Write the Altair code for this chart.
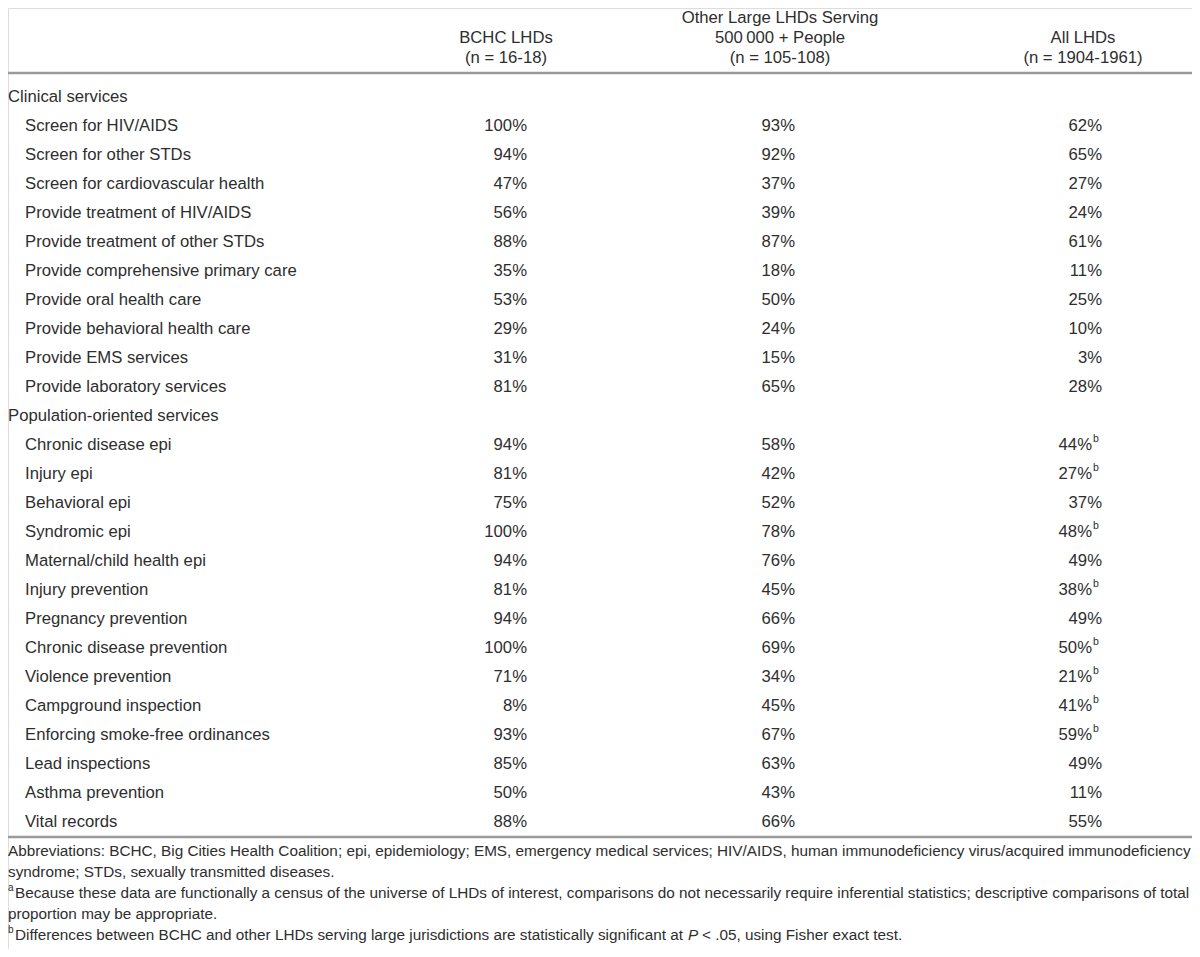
import altair as alt
import pandas as pd

# ---------------- data ----------------
sections = ["Clinical services", "Population-oriented services"]

clinical_items = [
    "Screen for HIV/AIDS",
    "Screen for other STDs",
    "Screen for cardiovascular health",
    "Provide treatment of HIV/AIDS",
    "Provide treatment of other STDs",
    "Provide comprehensive primary care",
    "Provide oral health care",
    "Provide behavioral health care",
    "Provide EMS services",
    "Provide laboratory services",
]
clinical_bchc = [100, 94, 47, 56, 88, 35, 53, 29, 31, 81]
clinical_other = [93, 92, 37, 39, 87, 18, 50, 24, 15, 65]
clinical_all = [62, 65, 27, 24, 61, 11, 25, 10, 3, 28]
clinical_sig = [False, False, False, False, False, False, False, False, False, False]

pop_items = [
    "Chronic disease epi",
    "Injury epi",
    "Behavioral epi",
    "Syndromic epi",
    "Maternal/child health epi",
    "Injury prevention",
    "Pregnancy prevention",
    "Chronic disease prevention",
    "Violence prevention",
    "Campground inspection",
    "Enforcing smoke-free ordinances",
    "Lead inspections",
    "Asthma prevention",
    "Vital records",
]
pop_bchc = [94, 81, 75, 100, 94, 81, 94, 100, 71, 8, 93, 85, 50, 88]
pop_other = [58, 42, 52, 78, 76, 45, 66, 69, 34, 45, 67, 63, 43, 66]
pop_all = [44, 27, 37, 48, 49, 38, 49, 50, 21, 41, 59, 49, 11, 55]
pop_sig = [True, True, False, True, False, True, False, True, True, True, True, False, False, False]

header_col1 = ["BCHC LHDs", "(n = 16-18)"]
header_col2 = ["Other Large LHDs Serving", "500\u2009000 + People", "(n = 105-108)"]
header_col3 = ["All LHDs", "(n = 1904-1961)"]

foot_lines = [
    "Abbreviations: BCHC, Big Cities Health Coalition; epi, epidemiology; EMS, emergency medical services; HIV/AIDS, human immunodeficiency virus/acquired immunodeficiency",
    "syndrome; STDs, sexually transmitted diseases.",
    "Because these data are functionally a census of the universe of LHDs of interest, comparisons do not necessarily require inferential statistics; descriptive comparisons of total",
    "proportion may be appropriate.",
    "Differences between BCHC and other LHDs serving large jurisdictions are statistically significant at",
]
foot_p = "P"
foot_tail = "< .05, using Fisher exact test."

# ---------------- table ----------------
rows = []
r = 0
for sec, items, b, o, a, s in [
    (sections[0], clinical_items, clinical_bchc, clinical_other, clinical_all, clinical_sig),
    (sections[1], pop_items, pop_bchc, pop_other, pop_all, pop_sig),
]:
    rows.append(dict(row=r, label=sec, kind="section", c1="", c2="", c3="", sup=False))
    r += 1
    for it, vb, vo, va, vs in zip(items, b, o, a, s):
        rows.append(dict(row=r, label=it, kind="item", c1=f"{vb}%", c2=f"{vo}%",
                         c3=f"{va}%", sup=vs))
        r += 1
df = pd.DataFrame(rows)

FONT = "Liberation Sans, Arial, sans-serif"
COL = "#2e2e2e"
FS = 16.7
W, H = 1184, 941

yscale = alt.Scale(domain=[0, 25], range=[89, 814])
Y = alt.Y("row:Q", scale=yscale, axis=None)

base = alt.Chart(df)


def txt(**kw):
    d = dict(font=FONT, fontSize=FS, color=COL, baseline="middle")
    d.update(kw)
    return d


layers = []
layers.append(base.transform_filter("datum.kind == 'section'")
              .mark_text(**txt(align="left"))
              .encode(x=alt.value(0), y=Y, text="label:N"))
layers.append(base.transform_filter("datum.kind == 'item'")
              .mark_text(**txt(align="left"))
              .encode(x=alt.value(17), y=Y, text="label:N"))
layers.append(base.transform_filter("datum.kind == 'item'")
              .mark_text(**txt(align="right"))
              .encode(x=alt.value(519), y=Y, text="c1:N"))
layers.append(base.transform_filter("datum.kind == 'item'")
              .mark_text(**txt(align="right"))
              .encode(x=alt.value(787), y=Y, text="c2:N"))
layers.append(base.transform_filter("datum.kind == 'item' && !datum.sup")
              .mark_text(**txt(align="right"))
              .encode(x=alt.value(1094), y=Y, text="c3:N"))
layers.append(base.transform_filter("datum.kind == 'item' && datum.sup")
              .mark_text(**txt(align="right"))
              .encode(x=alt.value(1084), y=Y, text="c3:N"))
layers.append(base.transform_filter("datum.kind == 'item' && datum.sup")
              .mark_text(**txt(align="left", fontSize=10.5, dy=-6))
              .encode(x=alt.value(1085), y=Y, text=alt.value("b")))

# headers
one = alt.Chart(pd.DataFrame({"k": [0]}))
hdr_y3 = [10, 30, 50]
for lines, cx in [(header_col1, 498), (header_col2, 772), (header_col3, 1075)]:
    ys = hdr_y3[-len(lines):]
    for t, yy in zip(lines, ys):
        layers.append(one.mark_text(**txt(align="center"))
                      .encode(x=alt.value(cx), y=alt.value(yy), text=alt.value(t)))

# rules
for yy in [65, 829]:
    layers.append(one.mark_rule(color="#9a9a9a", strokeWidth=2.5)
                  .encode(x=alt.value(0), x2=alt.value(W), y=alt.value(yy)))

# footnotes
FFS = 15.3
foot_y = [843, 864, 885, 906, 927]
foot_x = [0, 0, 7, 0, 7]
for t, yy, xx in zip(foot_lines, foot_y, foot_x):
    layers.append(one.mark_text(**txt(align="left", fontSize=FFS))
                  .encode(x=alt.value(xx), y=alt.value(yy), text=alt.value(t)))
for s, yy in [("a", foot_y[2]), ("b", foot_y[4])]:
    layers.append(one.mark_text(**txt(align="left", fontSize=10, dy=-5))
                  .encode(x=alt.value(0), y=alt.value(yy), text=alt.value(s)))
layers.append(one.mark_text(**txt(align="left", fontSize=FFS, fontStyle="italic"))
              .encode(x=alt.value(680), y=alt.value(foot_y[4]), text=alt.value(foot_p)))
layers.append(one.mark_text(**txt(align="left", fontSize=FFS))
              .encode(x=alt.value(694), y=alt.value(foot_y[4]), text=alt.value(foot_tail)))

chart = alt.layer(*layers).properties(
    width=W, height=H, autosize=alt.AutoSizeParams(type="none"), padding=0
).configure_view(stroke=None).configure(background="white")

chart.save("out.html", embed_options={"renderer": "svg", "actions": False})
